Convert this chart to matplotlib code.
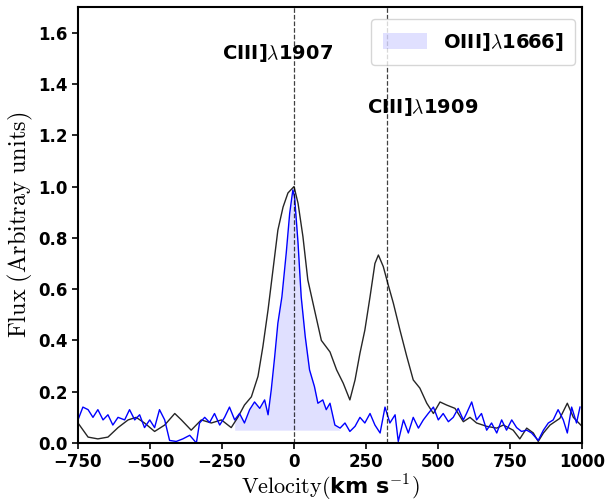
import matplotlib
matplotlib.use('Agg')
import matplotlib.pyplot as plt
from matplotlib.patches import Patch
import numpy as np

plt.rcParams['mathtext.fontset'] = 'cm'

# CIII] profile (black)
vel_ciii = [-750, -715, -681, -646, -611, -576, -548, -519, -484, -449, -414, -391,
            -357, -322, -287, -252, -218, -195, -172, -148, -125, -108, -90, -73,
            -56, -38, -21, 0, 14, 31, 48, 71, 95, 125, 148, 171, 194, 212, 229,
            246, 264, 281, 293, 310, 327, 345, 368, 391, 414, 437, 461, 484, 507,
            530, 559, 588, 611, 634, 669, 704, 727, 761, 784, 808, 831, 848, 866,
            889, 923, 949, 970, 1000]
flux_ciii = [0.078, 0.023, 0.016, 0.023, 0.06, 0.09, 0.10, 0.078, 0.045, 0.07, 0.115, 0.09,
             0.05, 0.09, 0.078, 0.09, 0.06, 0.10, 0.148, 0.18, 0.26, 0.376, 0.52, 0.675,
             0.83, 0.92, 0.975, 1.0, 0.935, 0.805, 0.636, 0.52, 0.40, 0.355, 0.285, 0.233, 0.168, 0.246, 0.35,
             0.44, 0.57, 0.70, 0.733, 0.688, 0.617, 0.545, 0.44, 0.34, 0.246, 0.214, 0.155, 0.115, 0.16,
             0.148, 0.135, 0.083, 0.10, 0.078, 0.065, 0.058, 0.07, 0.05, 0.016, 0.058, 0.039, 0.006, 0.039,
             0.07, 0.096, 0.155, 0.10, 0.065]

# OIII] profile (blue)
vel_oiii = [-750, -733, -715, -698, -681, -663, -646, -629, -611, -588, -571, -553,
            -536, -519, -501, -484, -467, -449, -432, -409, -386, -362, -339, -328,
            -310, -293, -276, -258, -241, -224, -206, -189, -172, -154, -137, -119,
            -102, -90, -79, -67, -56, -42, -27, -15, -4, 2, 14, 25, 39, 54, 71, 83,
            100, 112, 125, 142, 160, 177, 194, 212, 229, 246, 264, 281, 299, 316,
            333, 351, 362, 380, 397, 414, 432, 449, 466, 484, 501, 518, 536, 553,
            570, 588, 599, 617, 634, 651, 669, 686, 704, 721, 738, 756, 773, 790,
            808, 825, 848, 866, 883, 900, 917, 935, 949, 964, 981, 993]
flux_oiii = [0.09, 0.14, 0.13, 0.10, 0.13, 0.09, 0.11, 0.07, 0.10, 0.09, 0.13, 0.09,
             0.11, 0.06, 0.09, 0.06, 0.13, 0.09, 0.01, 0.006, 0.016, 0.03, 0.0, 0.078,
             0.10, 0.08, 0.115, 0.07, 0.10, 0.14, 0.09, 0.115, 0.078, 0.13, 0.16, 0.135,
             0.168, 0.11, 0.207, 0.337, 0.467, 0.57, 0.74, 0.895, 0.987, 0.96, 0.78, 0.57, 0.415, 0.285, 0.22, 0.155,
             0.168, 0.13, 0.155, 0.07, 0.058, 0.078, 0.045, 0.065, 0.10, 0.078, 0.115, 0.07, 0.039, 0.14,
             0.078, 0.11, 0.006, 0.09, 0.039, 0.10, 0.058, 0.09, 0.115, 0.14, 0.09, 0.115, 0.083, 0.10,
             0.135, 0.09, 0.115, 0.16, 0.09, 0.115, 0.05, 0.078, 0.039, 0.09, 0.05, 0.09, 0.06, 0.045,
             0.05, 0.039, 0.01, 0.05, 0.078, 0.09, 0.13, 0.09, 0.039, 0.14, 0.078, 0.14]

line_pos = [0, 322]
fill_base = 0.05
fill_range = (-210, 142)

vel_ciii = np.array(vel_ciii)
flux_ciii = np.array(flux_ciii)
vel_oiii = np.array(vel_oiii)
flux_oiii = np.array(flux_oiii)

fig = plt.figure(figsize=(6.06, 5.03), dpi=100)
ax = fig.add_axes([0.1287, 0.1193, 0.8317, 0.8667])

ax.plot(vel_ciii, flux_ciii, color='k', lw=1.0, alpha=0.85)
ax.plot(vel_oiii, flux_oiii, color='blue', lw=1.0)
sel = (vel_oiii >= fill_range[0]) & (vel_oiii <= fill_range[1])
ax.fill_between(vel_oiii, fill_base, flux_oiii, where=sel, interpolate=True,
                color='blue', alpha=0.12, lw=0)

for v in line_pos:
    ax.axvline(v, color='k', ls='--', lw=0.9, alpha=0.75)

ax.text(-56, 1.52, r'CIII]$\lambda$1907', fontsize=14, fontweight='bold',
        ha='center', va='center')
ax.text(448, 1.31, r'CIII]$\lambda$1909', fontsize=14, fontweight='bold',
        ha='center', va='center')

handle = Patch(facecolor='blue', alpha=0.12, edgecolor='none')
ax.legend([handle], [r'OIII]$\lambda$1666]'], loc='upper right',
          bbox_to_anchor=(0.986, 0.972), borderaxespad=0, borderpad=0.6,
          handlelength=2.3, handleheight=0.9,
          prop={'weight': 'bold', 'size': 14})

ax.set_xlim(-750, 1000)
ax.set_ylim(0, 1.7)
ax.set_xticks([-750, -500, -250, 0, 250, 500, 750, 1000])
ax.set_yticks(np.arange(0, 1.61, 0.2))
for lab in ax.get_xticklabels() + ax.get_yticklabels():
    lab.set_fontweight('bold')
ax.tick_params(labelsize=12, width=1.2, length=4)
for s in ax.spines.values():
    s.set_linewidth(1.5)

ax.set_ylabel(r'$\mathrm{Flux\ (Arbitray\ units)}$', fontsize=17.5, labelpad=2)
ax.set_xlabel(r'$\mathrm{Velocity(}$km s$^{-1}$$\mathrm{)}$', fontsize=16,
              fontweight='bold', labelpad=1)

fig.savefig('out.png', dpi=100)
